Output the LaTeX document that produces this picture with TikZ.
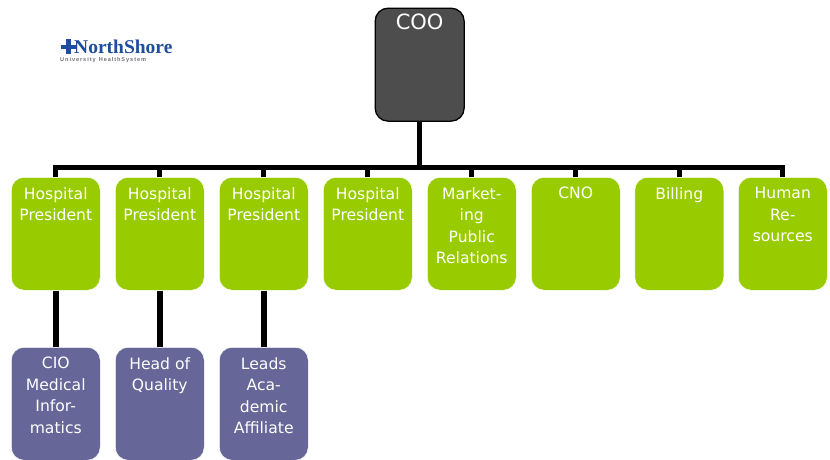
\documentclass[tikz,border=0pt]{standalone}
\usepackage{fontspec}
\setmainfont{DejaVu Sans}
\newfontfamily\logofont{Liberation Serif}
\newfontfamily\logosub{Liberation Sans}
\definecolor{lime}{HTML}{99CC00}
\definecolor{slate}{HTML}{666699}
\definecolor{coal}{HTML}{4D4D4D}
\definecolor{logoblue}{HTML}{1F4E9C}
\definecolor{logogrey}{HTML}{6F7278}
\newcommand\boxtext[2]{\parbox[t][103pt][t]{#1}{\centering\vspace{0pt}\setlength{\baselineskip}{21.5pt}#2}}
\tikzset{
  x=1pt,y=-1pt,
  unit/.style={anchor=north west,rounded corners=13pt,minimum width=89pt,minimum height=113pt,
    inner sep=0pt,text=white,draw=white,line width=0.5pt,font=\fontsize{15.6}{21.5}\selectfont},
  greenbox/.style={unit,fill=lime},
  purplebox/.style={unit,fill=slate},
  topbox/.style={unit,fill=coal,draw=black,line width=1.3pt,font=\fontsize{21}{25}\selectfont},
  trunk/.style={line width=5.5pt,draw=black},
  bus/.style={line width=5pt,draw=black,line cap=rect},
  stub/.style={line width=5pt,draw=black}
}
\begin{document}
\begin{tikzpicture}
\useasboundingbox (0,0) rectangle (830,459);
% connectors first (beneath boxes)
\node[topbox] (coo) at (374.5,7.5) {\boxtext{89pt}{\vspace{1pt}COO}};
\foreach \n/\x/\t in {
  g1/11/{\vspace{5pt}Hospital\\President},
  g2/115/{\vspace{5pt}Hospital\\President},
  g3/219/{\vspace{5pt}Hospital\\President},
  g4/323/{\vspace{5pt}Hospital\\President},
  g5/427/{\vspace{5pt}Market-\\ing\\Public\\Relations},
  g6/531/{\vspace{5pt}CNO},
  g7/634.5/{\vspace{5pt}Billing},
  g8/738/{\vspace{5pt}Human\\Re-\\sources}}{
  \node[greenbox] (\n) at (\x,177) {\boxtext{85pt}{\t}};
}
\node[purplebox] (p1) at (11,347) {\boxtext{85pt}{\vspace{5pt}CIO\\Medical\\Infor-\\matics}};
\node[purplebox] (p2) at (115,347) {\boxtext{85pt}{\vspace{5pt}Head of\\Quality}};
\node[purplebox] (p3) at (219,347) {\boxtext{85pt}{\vspace{5pt}Leads\\Aca-\\demic\\Affiliate}};
% bus
\coordinate (busl) at (55.5,167);
\coordinate (busr) at (782.5,167);
\draw[bus] (busl) -- (busr);
\draw[trunk] (coo.south) -- (coo.south |- busr);
\foreach \n in {g1,g2,g3,g4,g5,g6,g7,g8}{
  \draw[stub] (\n.north) -- (\n.north |- busl);
}
\foreach \a/\b in {g1/p1,g2/p2,g3/p3}{
  \draw[trunk] (\a.south) -- (\b.north);
}
% logo
\fill[logoblue] (61,44.5) rectangle (76,48.5);
\fill[logoblue] (66,39) rectangle (71,54);
\node[anchor=west,inner sep=0pt,text=logoblue,font=\logofont\bfseries\fontsize{19.5}{20}\selectfont] (logo) at (74,46.5) {NorthShore};
\node[anchor=west,inner sep=0pt,text=logogrey,font=\logosub\bfseries\fontsize{5.6}{6}\selectfont] (logosub) at (60,60.5) {U\,n\,i\,v\,e\,r\,s\,i\,t\,y\ \ H\,e\,a\,l\,t\,h\,S\,y\,s\,t\,e\,m};
\end{tikzpicture}
\end{document}
